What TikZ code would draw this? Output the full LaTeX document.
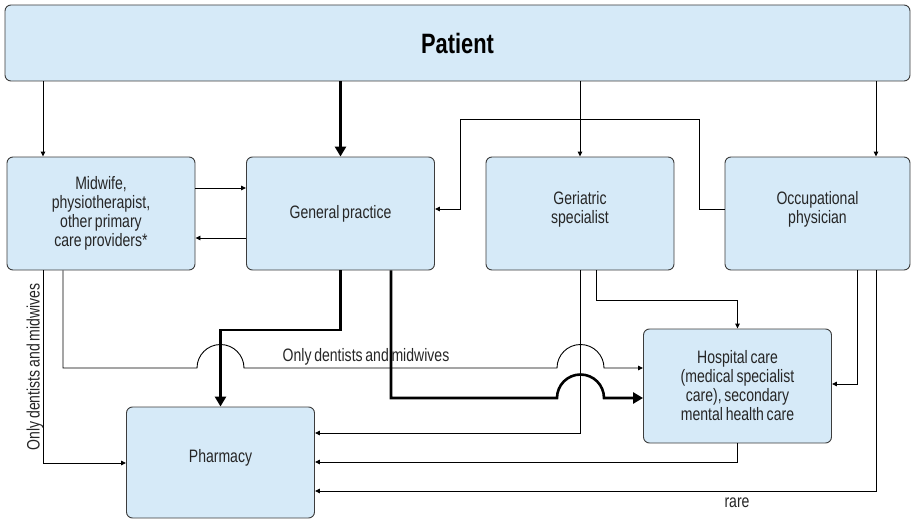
\documentclass[tikz,border=0pt]{standalone}
\usepackage{fontspec}
\setmainfont{Liberation Sans}[FakeStretch=0.78, WordSpace=0.7]
\usepackage{xcolor}
\usetikzlibrary{positioning,calc,arrows.meta}

\definecolor{boxblue}{RGB}{214,234,248}
\definecolor{boxline}{RGB}{60,60,60}

\begin{document}
\begin{tikzpicture}[x=1pt, y=-1pt,
		box/.style={draw=boxline, fill=boxblue, line width=0.9pt, rounded corners=6pt,
			minimum width=188pt, minimum height=113pt, align=center,
			font=\fontsize{18}{19}\selectfont, text=black!85},
		arr/.style={line width=0.9pt, -{Triangle[length=5pt,width=4.5pt]}},
		bold/.style={line width=2.6pt, -{Triangle[length=10pt,width=11pt]}},
		lbl/.style={font=\fontsize{18}{19}\selectfont, text=black!85, inner sep=0pt}]
			\useasboundingbox (0,0) rectangle (911,519);
			\node [box, minimum width=905pt, minimum height=76pt,
				font=\fontsize{28}{30}\selectfont\bfseries, text=black] (pat) at (457.5,43) {Patient};
			\node [box] (mid) at (101,213.5) {Midwife,\\physiotherapist,\\other primary\\care providers*};
			\node [box] (gp) at (340.5,213.5) {General practice};
			\node [box, text depth=12pt] (ger) at (580,213.5) {Geriatric\\specialist};
			\node [box, text depth=12pt, minimum width=185pt] (occ) at (817.5,213.5) {Occupational\\physician};
			\node [box, minimum height=114pt] (hos) at (737.5,386) {Hospital care\\(medical specialist\\care), secondary\\mental health care};
			\node [box, minimum height=111pt] (pha) at (220.5,462.5) {};
			\node [lbl] (phatext) at (220.5,458) {Pharmacy};

			% from the patient
			\draw [arr] (pat.south -| 43,0) -- (mid.north -| 43,0);
			\draw [bold] (pat.south -| gp.north) -- (gp.north);
			\draw [arr] (pat.south -| ger.north) -- (ger.north);
			\draw [arr] (pat.south -| 876,0) -- (occ.north -| 876,0);

			% between providers
			\draw [arr] (mid.east |- 0,188) -- (gp.west |- 0,188);
			\draw [arr] (gp.west |- 0,238) -- (mid.east |- 0,238);
			\draw [arr] (occ.west |- 0,209) -| (699,119) -| (460,209) -- (gp.east |- 0,209);
			\draw [arr] (ger.south -| 596,0) -- (596,300) -| (hos.north);
			\draw [arr] (occ.south -| 857,0) |- (hos.east |- 0,384);

			% to pharmacy and hospital
			\draw [arr] (mid.south -| 43,0) |- (pha.west |- 0,463);
			\draw [arr] (mid.south -| 63,0) |- (197,368) arc[start angle=180, end angle=0, radius=23.5pt]
				-- (557,368) arc[start angle=180, end angle=0, radius=23.5pt] -- (hos.west |- 0,368);
			\draw [bold] (gp.south) |- (pha.north |- 0,330) -- (pha.north);
			\draw [bold] (gp.south -| 391,0) |- (557,398) arc[start angle=180, end angle=0, radius=23.5pt]
				-- (hos.west |- 0,398);
			\draw [arr] (ger.south) |- (pha.east |- 0,433);
			\draw [arr] (hos.south) |- (pha.east |- 0,462);
			\draw [arr] (occ.south -| 876,0) |- (pha.east |- 0,491);

			\node [lbl, rotate=90] (onlyv) at (35,367) {Only dentists and midwives};
			\node [lbl] (onlyh) at (366,357) {Only dentists and midwives};
			\node [lbl] (rare) at (737,503) {rare};
		\end{tikzpicture}
\end{document}
